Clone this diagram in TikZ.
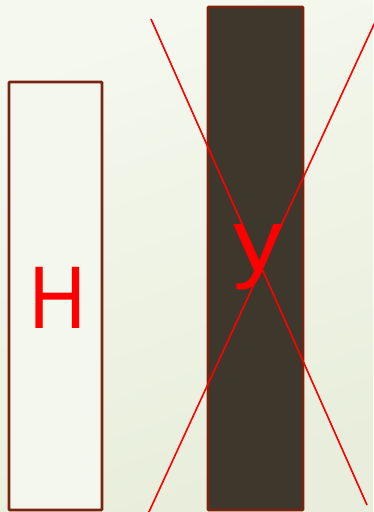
\documentclass[tikz,border=0pt]{standalone}
\usepackage{fontspec}
\setmainfont{Liberation Sans}
\usetikzlibrary{positioning, calc}

\definecolor{bgtop}{RGB}{245,248,238}
\definecolor{bgbot}{RGB}{232,238,219}
\definecolor{boxlight}{RGB}{244,247,238}
\definecolor{boxdark}{RGB}{61,56,43}
\definecolor{rim}{RGB}{120,36,16}

\tikzset{
  bar/.style={draw=rim, line width=2.6pt, rounded corners=0.8pt},
  letter/.style={text=red, font=\fontsize{89}{89}\selectfont, inner sep=0pt, anchor=base},
  cross/.style={red, line width=1.6pt}
}

\begin{document}
\begin{tikzpicture}[x=1pt, y=-1pt]

\useasboundingbox (0, 0) rectangle (373, 512);
\shade [shading=axis, top color=bgtop, bottom color=bgbot, shading angle=20] (0, 0) rectangle (373, 512);

\draw [bar, fill=boxlight] (9, 82) rectangle (102, 510);
\draw [bar, fill=boxdark] (208, 7) rectangle (303, 510);

\node [letter] (letH) at (57.5, 328) {\scalebox{0.88}[1]{H}};
\node [letter] (letY) at (258, 271) {\scalebox{1.12}[1]{y}};

% the crossing lines
\coordinate (c1) at (151, 19);
\coordinate (c2) at (367, 505);
\coordinate (c3) at (376, 20);
\coordinate (c4) at (148, 514);
\draw [cross] (c1) -- (c2);
\draw [cross] (c3) -- (c4);

\end{tikzpicture}
\end{document}
